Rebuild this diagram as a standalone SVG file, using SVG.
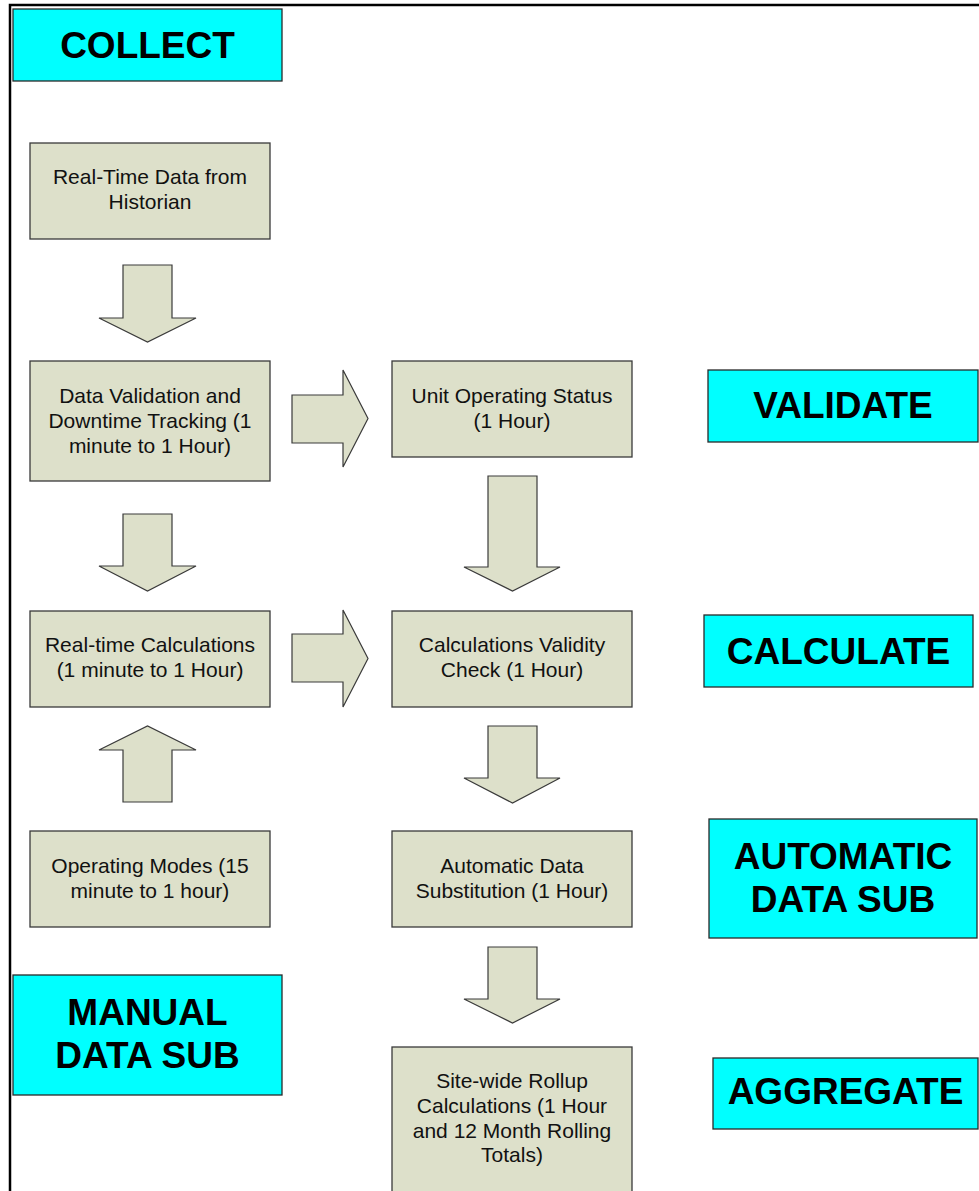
<svg xmlns="http://www.w3.org/2000/svg" width="979" height="1191" viewBox="0 0 979 1191">
<style>
.box{fill:#DDE0CA;stroke:#3a3a3a;stroke-width:1.3}
.lbl{fill:#00FFFF;stroke:#2a2a2a;stroke-width:1.3}
.arr{fill:#DDE0CA;stroke:#3a3a3a;stroke-width:1.2;stroke-linejoin:miter}
.t{font-family:"Liberation Sans",Arial,sans-serif;font-size:21px;fill:#111;text-anchor:middle}
.b{font-family:"Liberation Sans",Arial,sans-serif;font-size:37px;font-weight:bold;fill:#000;text-anchor:middle}
.shadow{fill:#9a9a9a;opacity:0.5}
</style>
<rect x="0" y="0" width="979" height="1191" fill="#ffffff"/>
<path d="M10,1191 V5 H979" fill="none" stroke="#000" stroke-width="2.5"/>

<g id="collect">
<rect class="lbl" x="13" y="9" width="269" height="72"/>
<text class="b" x="147.5" y="58">COLLECT</text>
</g>
<g id="validate">
<rect class="lbl" x="708" y="370" width="270" height="72"/>
<text class="b" x="843" y="418">VALIDATE</text>
</g>
<g id="calculate">
<rect class="lbl" x="704" y="615" width="269" height="72"/>
<text class="b" x="838.5" y="664">CALCULATE</text>
</g>
<g id="automatic">
<rect class="lbl" x="709" y="819" width="268" height="119"/>
<text class="b" x="843" y="869">AUTOMATIC</text>
<text class="b" x="843" y="912">DATA SUB</text>
</g>
<g id="manual">
<rect class="lbl" x="13" y="975" width="269" height="120"/>
<text class="b" x="147.5" y="1025">MANUAL</text>
<text class="b" x="147.5" y="1068">DATA SUB</text>
</g>
<g id="aggregate">
<rect class="lbl" x="713" y="1058" width="265" height="71"/>
<text class="b" x="845.5" y="1104">AGGREGATE</text>
</g>

<g id="historian">
<rect class="box" x="30" y="143" width="240" height="96"/>
<text class="t" x="150" y="184">Real-Time Data from</text>
<text class="t" x="150" y="209">Historian</text>
</g>
<g id="validation">
<rect class="box" x="30" y="361" width="240" height="120"/>
<text class="t" x="150" y="403">Data Validation and</text>
<text class="t" x="150" y="428">Downtime Tracking (1</text>
<text class="t" x="150" y="453">minute to 1 Hour)</text>
</g>
<g id="unitstatus">
<rect class="box" x="392" y="361" width="240" height="96"/>
<text class="t" x="512" y="403">Unit Operating Status</text>
<text class="t" x="512" y="428">(1 Hour)</text>
</g>
<g id="realtimecalc">
<rect class="box" x="30" y="611" width="240" height="96"/>
<text class="t" x="150" y="652">Real-time Calculations</text>
<text class="t" x="150" y="677">(1 minute to 1 Hour)</text>
</g>
<g id="validitycheck">
<rect class="box" x="392" y="611" width="240" height="96"/>
<text class="t" x="512" y="652">Calculations Validity</text>
<text class="t" x="512" y="677">Check (1 Hour)</text>
</g>
<g id="opmodes">
<rect class="box" x="30" y="831" width="240" height="96"/>
<text class="t" x="150" y="873">Operating Modes (15</text>
<text class="t" x="150" y="898">minute to 1 hour)</text>
</g>
<g id="autosub">
<rect class="box" x="392" y="831" width="240" height="96"/>
<text class="t" x="512" y="873">Automatic Data</text>
<text class="t" x="512" y="898">Substitution (1 Hour)</text>
</g>
<g id="rollup">
<rect class="box" x="392" y="1047" width="240" height="160"/>
<text class="t" x="512" y="1088">Site-wide Rollup</text>
<text class="t" x="512" y="1113">Calculations (1 Hour</text>
<text class="t" x="512" y="1138">and 12 Month Rolling</text>
<text class="t" x="512" y="1162">Totals)</text>
</g>

<g id="connectors">
<polygon class="arr" points="123,265 172,265 172,318 196,318 147.5,342 99,318 123,318"/>
<polygon class="arr" points="123,514 172,514 172,566 196,566 147.5,591 99,566 123,566"/>
<polygon class="arr" points="123,802 172,802 172,750 196,750 147.5,726 99,750 123,750"/>
<polygon class="arr" points="292,395 343,395 343,370 368,418.5 343,467 343,443 292,443"/>
<polygon class="arr" points="292,634 343,634 343,610 368,658.5 343,707 343,682 292,682"/>
<polygon class="arr" points="488,476 537,476 537,567 560,567 512.5,591 464,567 488,567"/>
<polygon class="arr" points="488,726 537,726 537,778 560,778 512.5,803 464,778 488,778"/>
<polygon class="arr" points="488,947 537,947 537,999 560,999 512.5,1023 464,999 488,999"/>
</g>
</svg>
